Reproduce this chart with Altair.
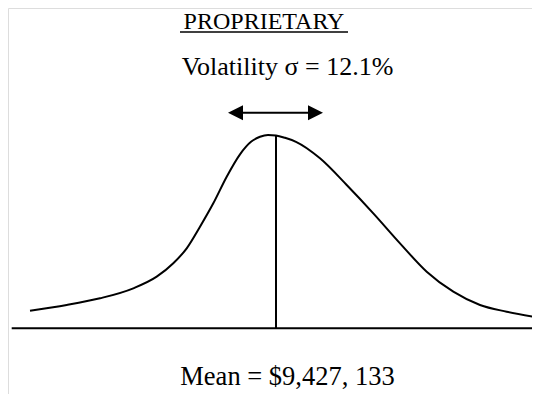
import altair as alt
import pandas as pd

# Schematic distribution curve: horizontal position and height above the baseline
curve_x = [30, 66.7, 100, 133.3, 156.7, 173.3, 186.7, 200, 213.3, 226.7, 240, 251,
           260, 268, 276, 285, 296, 320, 346.7, 373.3, 400, 426.7, 453.3, 480, 506.7, 536]
curve_y = [17.6, 23.3, 30, 40, 51.6, 65, 80, 101.6, 125, 151.6, 174, 186.5,
           191.5, 193.3, 192.8, 190.5, 186.5, 170, 143.3, 115, 85, 56.6, 36.6, 23.3, 16.6, 11]

# Mean marker and the horizontal axis
mean_x = [276]
mean_top = [192.8]
axis_x = [11.7, 532]

# Volatility arrow (left end, right end, height)
arrow_x = [228, 323]
arrow_y = [215.6]

# Text labels
labels = ["PROPRIETARY", "Volatility \u03c3 = 12.1%", "Mean = $9,427, 133"]
label_x = [264, 287.5, 287.5]
label_y = [299.3, 253.8, -56.7]
label_size = [24, 26, 26.5]
underline_x = [180, 348]
underline_y = [296.3]

W, H = 524, 386
xs = alt.Scale(domain=[8, 8 + W], nice=False, zero=False)
ys = alt.Scale(domain=[320.3 - H, 320.3], nice=False, zero=False)
X = lambda f: alt.X(f, type="quantitative", scale=xs, axis=None)
Y = lambda f: alt.Y(f, type="quantitative", scale=ys, axis=None)

curve_df = pd.DataFrame({"x": curve_x, "y": curve_y})
curve = alt.Chart(curve_df).mark_line(color="black", strokeWidth=2, interpolate="monotone").encode(
    x=X("x"), y=Y("y"))

base_df = pd.DataFrame({"x": axis_x, "y": [0, 0]})
baseline = alt.Chart(base_df).mark_line(color="black", strokeWidth=2).encode(
    x=X("x"), y=Y("y"))

mean_df = pd.DataFrame({"x": mean_x * 2, "y": [0, mean_top[0]]})
mean_line = alt.Chart(mean_df).mark_line(color="black", strokeWidth=2).encode(
    x=X("x"), y=Y("y"), order="y:Q")

head = 15
arr_df = pd.DataFrame({"x": [arrow_x[0] + head / 2, arrow_x[1] - head / 2], "y": arrow_y * 2})
arrow_line = alt.Chart(arr_df).mark_line(color="black", strokeWidth=2).encode(
    x=X("x"), y=Y("y"))

left_df = pd.DataFrame({"x": [arrow_x[0] + head / 2], "y": arrow_y})
right_df = pd.DataFrame({"x": [arrow_x[1] - head / 2], "y": arrow_y})
left_head = alt.Chart(left_df).mark_point(shape="M1,-1L-1,0L1,1Z", filled=True, color="black",
                                          size=head * head, opacity=1).encode(x=X("x"), y=Y("y"))
right_head = alt.Chart(right_df).mark_point(shape="M-1,-1L1,0L-1,1Z", filled=True, color="black",
                                            size=head * head, opacity=1).encode(x=X("x"), y=Y("y"))

text_df = pd.DataFrame({"label": labels, "x": label_x, "y": label_y, "size": label_size})
texts = alt.Chart(text_df).mark_text(font="Liberation Serif", color="black",
                                     align="center", baseline="alphabetic").encode(
    x=X("x"), y=Y("y"), text="label:N",
    size=alt.Size("size:Q", scale=None, legend=None))

ul_df = pd.DataFrame({"x": underline_x, "y": underline_y * 2})
underline = alt.Chart(ul_df).mark_line(color="black", strokeWidth=1.6).encode(
    x=X("x"), y=Y("y"))

chart = alt.layer(curve, baseline, mean_line, arrow_line, left_head, right_head, texts, underline).properties(
    width=W, height=H, padding=0, autosize=alt.AutoSizeParams(type="none")
).configure_view(stroke=None, strokeWidth=0).configure(background="white")

chart.save("out.html", embed_options={"renderer": "svg", "actions": False})
